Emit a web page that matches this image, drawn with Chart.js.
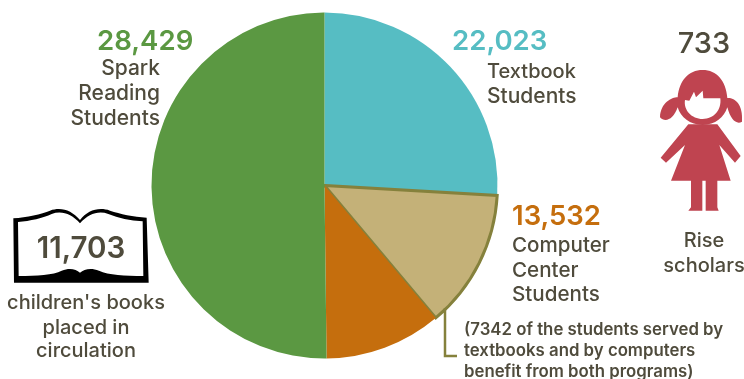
<!DOCTYPE html>
<html>
<head>
<meta charset="utf-8">
<title>Students served</title>
<script src="https://cdn.jsdelivr.net/npm/chart.js@4"></script>
<style>
  html, body { margin: 0; padding: 0; background: #fff; }
  .stage { position: relative; width: 744px; height: 379px; overflow: hidden; }
  canvas { position: absolute; left: 0; top: 0; }
  svg { position: absolute; }
</style>
</head>
<body>
<div class="stage">
  <canvas id="programsChart" width="744" height="379"></canvas>
  <!-- open book around the circulation count -->
  <svg style="left:0;top:190px" width="180" height="189" viewBox="0 0 540 567">
    <path fill="#000" fill-rule="evenodd" d="M40,85 C80,82 125,72 150,62 C185,50 215,62 240,90 C262,62 295,50 330,62 C360,72 400,80 440,83 L446,278 L42,278 Z
      M54,96 L56,258 C110,258 160,255 185,242 C210,232 228,238 240,248 C252,238 272,232 297,242 C325,255 375,258 430,258 L428,94 C390,92 355,84 325,72 C295,61 265,72 240,100 C215,72 185,61 155,72 C130,84 90,93 54,96 Z"/>
  </svg>
  <!-- girl pictogram for the Rise scholars -->
  <svg style="left:640px;top:10px" width="104" height="280" viewBox="0 0 312 840">
    <path fill="#bf4450" fill-rule="evenodd" d="M188,180 C145,180 118,212 113,262 C95,262 62,278 60,322 C75,338 100,330 113,292 C122,322 150,345 188,345 C226,345 252,322 262,292 C272,330 290,345 306,335 C310,280 282,262 262,264 C258,212 230,180 188,180 Z
      M135,270 C130,300 155,327 188,327 C222,327 245,300 241,265 L190,265 L188,242 L168,262 L162,245 L148,272 Z"/>
    <path fill="#bf4450" d="M145,343 L232,343 L302,438 L285,458 L238,405 L272,512 L232,512 L232,592 L236,602 L197,602 L197,512 L187,512 L187,602 L145,602 L153,592 L153,512 L93,512 L135,405 L78,458 L62,443 Z"/>
  </svg>
</div>
<script>
const sliceLabels = ["Textbook only", "Textbook and computer", "Computer only", "Spark Reading"];
const sliceValues = [14681, 7342, 6190, 28429];
const sliceColors = ["#56bdc3", "#c4b178", "#c56e0d", "#5b9842"];
const sliceBorders = [0, 3, 0, 0];

const inkColor = "#4f4b3c";
const fontFamily = "Inter, Lato, sans-serif";

// [text, x, baseline, align, size, weight, color]
const captions = [
  ["28,429", 97, 50, "left", 27.6, 600, "#5b9842"],
  ["Spark", 160, 75, "right", 21, 500, inkColor],
  ["Reading", 160, 100, "right", 21, 500, inkColor],
  ["Students", 160, 125, "right", 21, 500, inkColor],
  ["22,023", 452, 50, "left", 27.6, 600, "#56bdc3"],
  ["Textbook", 487, 78, "left", 20, 500, inkColor],
  ["Students", 487, 103, "left", 21, 500, inkColor],
  ["733", 704, 53, "center", 29, 500, inkColor],
  ["Rise", 704, 247, "center", 20, 500, inkColor],
  ["scholars", 704, 272, "center", 20, 500, inkColor],
  ["13,532", 512, 225, "left", 27.5, 600, "#c56e0d"],
  ["Computer", 512, 252, "left", 20.6, 500, inkColor],
  ["Center", 512, 277, "left", 20.6, 500, inkColor],
  ["Students", 512, 301, "left", 20.6, 500, inkColor],
  ["11,703", 81, 258, "center", 29.5, 600, inkColor],
  ["children's books", 86, 309, "center", 20, 500, inkColor],
  ["placed in", 86, 334, "center", 20, 500, inkColor],
  ["circulation", 86, 357, "center", 20, 500, inkColor],
  ["(7342 of the students served by", 464, 335, "left", 16.8, 600, inkColor],
  ["textbooks and by computers", 464, 356, "left", 16.8, 600, inkColor],
  ["benefit from both programs)", 464, 377, "left", 16.8, 600, inkColor]
];

// captions and the leader line from the shared slice to its footnote
const captionPlugin = {
  id: "captions",
  afterDraw(chart) {
    const ctx = chart.ctx;
    ctx.save();
    ctx.strokeStyle = "#85813c";
    ctx.lineWidth = 2.5;
    ctx.beginPath();
    ctx.moveTo(445, 308);
    ctx.lineTo(445, 356);
    ctx.lineTo(457, 356);
    ctx.stroke();
    ctx.textBaseline = "alphabetic";
    captions.forEach(([text, x, y, align, size, weight, color]) => {
      ctx.font = weight + " " + size + "px " + fontFamily;
      ctx.textAlign = align;
      ctx.fillStyle = color;
      ctx.fillText(text, x, y);
    });
    ctx.restore();
  }
};

new Chart(document.getElementById("programsChart"), {
  type: "pie",
  data: {
    labels: sliceLabels,
    datasets: [{
      data: sliceValues,
      backgroundColor: sliceColors,
      borderColor: "#85813c",
      borderWidth: sliceBorders,
      borderJoinStyle: "miter"
    }]
  },
  options: {
    responsive: false,
    animation: false,
    layout: { padding: { left: 150, right: 245, top: 11, bottom: 19 } },
    plugins: { legend: { display: false }, tooltip: { enabled: false } }
  },
  plugins: [captionPlugin]
});
</script>
</body>
</html>
